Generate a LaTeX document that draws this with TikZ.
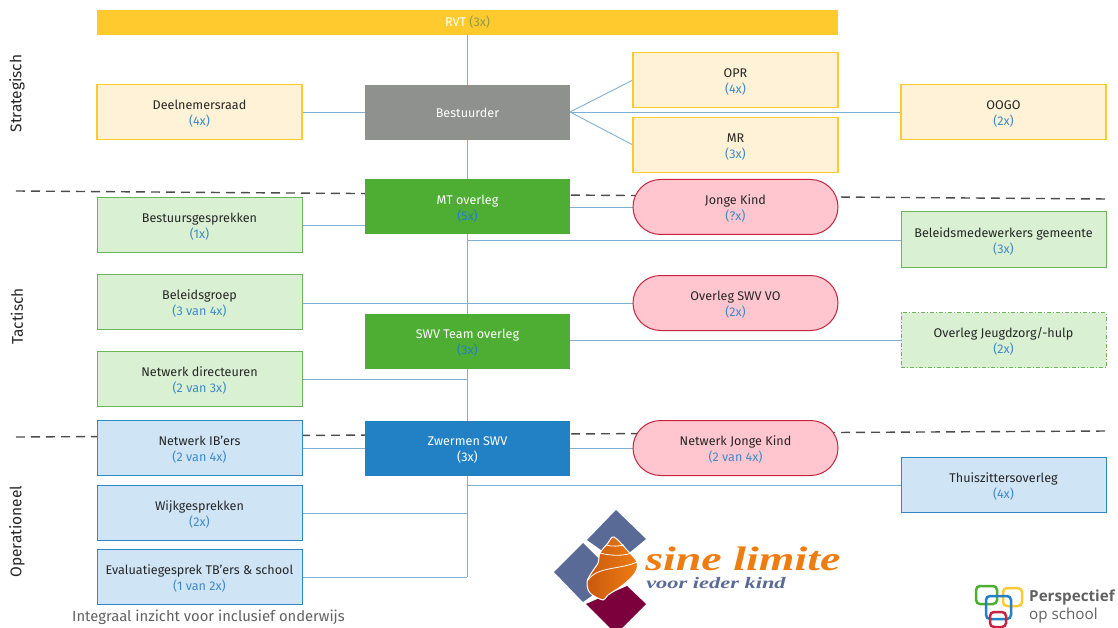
\documentclass[tikz,border=0pt]{standalone}
\usepackage{fontspec}
\setmainfont{Fira Sans}[Scale=1]
\newfontfamily\logoserif{Liberation Serif}
\newfontfamily\logosans{Open Sans}
\usetikzlibrary{shapes.misc}
\definecolor{linkblue}{HTML}{7FB0D6}
\definecolor{cnt}{HTML}{3F8AC6}
\definecolor{txt}{HTML}{262626}
\definecolor{ygold}{HTML}{FFCA2E}
\definecolor{ylight}{HTML}{FFF2D6}
\definecolor{gdark}{HTML}{4EAD33}
\definecolor{glight}{HTML}{D9F0D3}
\definecolor{gedge}{HTML}{6DB35A}
\definecolor{bdark}{HTML}{2280C4}
\definecolor{blight}{HTML}{CFE4F5}
\definecolor{bedge}{HTML}{2E86C4}
\definecolor{pinkf}{HTML}{FFC6D0}
\definecolor{pinke}{HTML}{C8233F}
\definecolor{slate}{HTML}{5A6A97}
\definecolor{maroon}{HTML}{7B003C}
\definecolor{orangel}{HTML}{EE7D11}
\definecolor{oranged}{HTML}{C9590F}
\definecolor{greybox}{HTML}{8E918E}
\definecolor{rvtcnt}{HTML}{8F9A4A}
\tikzset{
  x=1pt,y=-1pt,
  bx/.style={minimum width=205pt,minimum height=55pt,inner sep=0pt,align=center,font=\fontsize{12.6}{16}\selectfont,text=txt,line width=1pt},
  yel/.style={bx,draw=ygold,fill=ylight,line width=1.1pt},
  grn/.style={bx,draw=gedge,fill=glight},
  blu/.style={bx,draw=bedge,fill=blight},
  pnk/.style={bx,rounded rectangle,rounded rectangle arc length=180,draw=pinke,fill=pinkf},
  solidg/.style={bx,fill=gdark,text=white},
  lnk/.style={draw=linkblue,line width=.9pt},
  divider/.style={draw=black!70,line width=1.4pt,dash pattern=on 9pt off 6pt},
  side/.style={rotate=90,font=\fontsize{15.5}{16}\selectfont,text=txt},
  whorl/.style={draw=white,line width=.8pt},
  ring/.style={line width=2.5pt,rounded corners=4pt},
}
\newcommand{\cn}[1]{\textcolor{cnt}{#1}}
\newcommand{\tl}[2]{\rule{0pt}{13pt}#1\\#2}
\newcommand{\ol}[1]{\rule{0pt}{10.5pt}#1}
\begin{document}
\begin{tikzpicture}
\useasboundingbox (0,0) rectangle (1118,628);
% dividers
\coordinate (dA1) at (16,191); \coordinate (dA2) at (1108,199);
\coordinate (dB1) at (16,437); \coordinate (dB2) at (1108,431);
\draw[divider] (dA1) -- (dA2);
\draw[divider] (dB1) -- (dB2);
% free points on the spine
\coordinate (sTop) at (467,35);
\coordinate (sBot) at (467,577);
\coordinate (s240) at (467,240);
\coordinate (s379) at (467,379);
\coordinate (s485) at (467,485);
\coordinate (s513) at (467,513);
% connectors first (nodes on top)
\path[lnk] (sTop) -- (sBot);
\coordinate (hub) at (570,112);
\path[lnk] (302,112) -- (hub);
\path[lnk] (hub) -- (633,80);
\path[lnk] (hub) -- (633,145);
\path[lnk] (hub) -- (901,112);
\path[lnk] (302,225) -- (365,225);
\path[lnk] (570,207) -- (633,207);
\path[lnk] (s240) -- (901,240);
\path[lnk] (302,303) -- (633,303);
\path[lnk] (570,340) -- (901,340);
\path[lnk] (302,379) -- (s379);
\path[lnk] (302,448) -- (365,448);
\path[lnk] (570,448) -- (633,448);
\path[lnk] (s485) -- (901,485);
\path[lnk] (302,513) -- (s513);
\path[lnk] (302,577) -- (sBot);
% nodes
\node[bx,fill=ygold,minimum width=741pt,minimum height=25pt] (rvt) at (467.5,22.5) {\ol{\textcolor{white}{RVT} \textcolor{rvtcnt}{(3x)}}};
\node[yel] (deel) at (199.5,112) {\tl{Deelnemersraad}{\cn{(4x)}}};
\node[bx,fill=greybox,text=white] (best) at (467.5,112.5) {\ol{Bestuurder}};
\node[yel] (opr) at (735.5,80) {\tl{OPR}{\cn{(4x)}}};
\node[yel] (mr) at (735.5,145) {\tl{MR}{\cn{(3x)}}};
\node[yel] (oogo) at (1003.5,112) {\tl{OOGO}{\cn{(2x)}}};
\node[solidg] (mt) at (467.5,207) {\tl{MT overleg}{\textcolor{bdark}{(5x)}}};
\node[pnk] (jk) at (735.5,207) {\tl{Jonge Kind}{\cn{(?x)}}};
\node[grn] (bg) at (199.5,225) {\tl{Bestuursgesprekken}{\cn{(1x)}}};
\node[grn] (bm) at (1003.5,239.5) {\tl{Beleidsmedewerkers gemeente}{\cn{(3x)}}};
\node[grn] (bl) at (199.5,302) {\tl{Beleidsgroep}{\cn{(3 van 4x)}}};
\node[pnk] (vo) at (735.5,303) {\tl{Overleg SWV VO}{\cn{(2x)}}};
\node[solidg] (swv) at (467.5,341) {\tl{SWV Team overleg}{\textcolor{bdark}{(3x)}}};
\node[grn,draw=gedge,dash pattern=on 4pt off 2pt on 1pt off 2pt] (jz) at (1003.5,340) {\tl{Overleg Jeugdzorg/-hulp}{\cn{(2x)}}};
\node[grn] (nd) at (199.5,379) {\tl{Netwerk directeuren}{\cn{(2 van 3x)}}};
\node[blu] (ib) at (199.5,448) {\tl{Netwerk IB'ers}{\cn{(2 van 4x)}}};
\node[bx,fill=bdark,text=white] (zw) at (467.5,448) {\tl{Zwermen SWV}{(3x)}};
\node[pnk] (njk) at (735.5,448) {\tl{Netwerk Jonge Kind}{\cn{(2 van 4x)}}};
\node[blu] (th) at (1003.5,485) {\tl{Thuiszittersoverleg}{\cn{(4x)}}};
\node[blu] (wk) at (199.5,513) {\tl{Wijkgesprekken}{\cn{(2x)}}};
\node[blu] (ev) at (199.5,577) {\tl{Evaluatiegesprek TB'ers \& school}{\cn{(1 van 2x)}}};
% side labels
\node[side] (l1) at (17,93.5) {Strategisch};
\node[side] (l2) at (17,316.5) {Tactisch};
\node[side] (l3) at (17,531.5) {Operationeel};
\node[anchor=west,inner sep=0pt,font=\fontsize{14.8}{16}\selectfont,text=black!62] (foot) at (72,617) {Integraal inzicht voor inclusief onderwijs};
% sine limite logo
\fill[slate] (616,510) -- (646,539) -- (618,562) -- (587,540) -- cycle;
\fill[slate] (583,543) -- (606,566) -- (600,590) -- (583,602) -- (554,572) -- cycle;
\fill[maroon] (627,586) -- (646,604) -- (616,634) -- (586,604) -- cycle;
\draw[white,line width=1pt,left color=oranged,right color=orangel]
  plot[smooth cycle,tension=.55] coordinates {(614,537) (627,550) (637,562) (635,573) (623,585) (608,595) (603,600) (590,593) (587,582) (592,572) (598,563) (600,553) (608,543)};
\draw[whorl] (588,580) .. controls (598,566) and (620,570) .. (637,562);
\draw[whorl] (600,553) .. controls (610,556) and (625,556) .. (631,553);
\draw[whorl] (606,545) .. controls (612,547) and (620,546) .. (624,545);
\node[anchor=base west,inner sep=0pt,xscale=1.35,font=\logoserif\bfseries\itshape\fontsize{34}{36}\selectfont,text=orangel] (sl) at (645,570) {sine limite};
\node[anchor=base west,inner sep=0pt,xscale=1.4,font=\logoserif\bfseries\itshape\fontsize{16}{18}\selectfont,text=slate] (vi) at (646,588) {voor ieder kind};
% perspectief logo
\draw[gdark,ring] (976,586) rectangle (997,604);
\draw[ygold,ring] (1003,588) rectangle (1022,606);
\draw[bdark,ring] (986,596) rectangle (1011,619);
\draw[pinke,ring] (990,612) rectangle (1006,627);
\node[anchor=west,inner sep=0pt,font=\logosans\bfseries\fontsize{15.2}{16}\selectfont,text=black!62] (p1) at (1029,598) {Perspectief};
\node[anchor=west,inner sep=0pt,font=\logosans\fontsize{15.2}{16}\selectfont,text=black!62] (p2) at (1029,616) {op school};
\end{tikzpicture}
\end{document}
